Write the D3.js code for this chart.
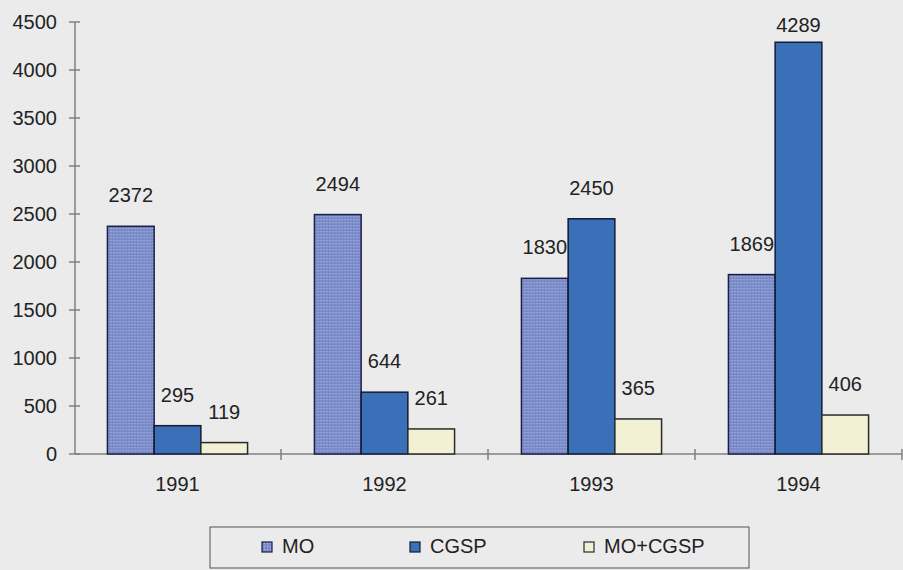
<!DOCTYPE html>
<html>
<head>
<meta charset="utf-8">
<script src="https://cdn.jsdelivr.net/npm/d3@7"></script>
<style>
  body { margin: 0; background: #ebebeb; }
  svg { display: block; font-family: "Liberation Sans", Arial, sans-serif; }
</style>
</head>
<body>
<div id="chart"></div>
<script>
const years = ["1991", "1992", "1993", "1994"];
const seriesNames = ["MO", "CGSP", "MO+CGSP"];
const moValues = [2372, 2494, 1830, 1869];
const cgspValues = [295, 644, 2450, 4289];
const bothValues = [119, 261, 365, 406];
const yTicks = [0, 500, 1000, 1500, 2000, 2500, 3000, 3500, 4000, 4500];

const width = 903;
const height = 570;
const svg = d3.select("#chart").append("svg").attr("width", width).attr("height", height);

svg.append("rect").attr("width", width).attr("height", height).attr("fill", "#ebebeb");

// dotted fill for the MO bars
const defs = svg.append("defs");
const pat = defs.append("pattern")
  .attr("id", "moDots")
  .attr("width", 3).attr("height", 3)
  .attr("patternUnits", "userSpaceOnUse");
pat.append("rect").attr("width", 3).attr("height", 3).attr("fill", "#7d8ecb");
pat.append("rect").attr("x", 0).attr("y", 0).attr("width", 1).attr("height", 1).attr("fill", "#a9b5e0");
pat.append("rect").attr("x", 2).attr("y", 2).attr("width", 1).attr("height", 1).attr("fill", "#6a7bbd");

const fills = ["url(#moDots)", "#3a70b8", "#f3f1d5"];
const strokes = ["#1c1f45", "#141a33", "#2a2a2a"];

const data = years.map((y, i) => ({
  year: y,
  values: [moValues[i], cgspValues[i], bothValues[i]]
}));

const x0 = d3.scaleBand().domain(years).range([74, 902]).paddingInner(0.323).paddingOuter(0.1615);
const x1 = d3.scaleBand().domain(d3.range(seriesNames.length)).range([0, x0.bandwidth()]);
const y = d3.scaleLinear().domain([0, 4500]).range([454, 22]);

const axisColor = "#808080";

// y axis
const yAxis = svg.append("g").attr("transform", "translate(75,0)");
yAxis.append("line").attr("y1", y(4500)).attr("y2", y(0)).attr("stroke", axisColor).attr("stroke-width", 1.5);
yAxis.selectAll("line.tick").data(yTicks).enter().append("line")
  .attr("class", "tick")
  .attr("x1", -6).attr("x2", 5)
  .attr("y1", d => y(d)).attr("y2", d => y(d))
  .attr("stroke", axisColor).attr("stroke-width", 1.5);
yAxis.selectAll("text").data(yTicks).enter().append("text")
  .attr("x", -18)
  .attr("y", d => y(d))
  .attr("dy", "0.35em")
  .attr("text-anchor", "end")
  .attr("font-size", 20)
  .attr("fill", "#222")
  .text(d => d);

// x axis
const xAxis = svg.append("g");
xAxis.append("line").attr("x1", 75).attr("x2", 902).attr("y1", y(0)).attr("y2", y(0))
  .attr("stroke", axisColor).attr("stroke-width", 1.5);
const catEdges = years.map(d => x0(d) - x0.step() * x0.paddingOuter()).concat([902]);
xAxis.selectAll("line.tick").data(catEdges.slice(1)).enter().append("line")
  .attr("class", "tick")
  .attr("x1", d => d).attr("x2", d => d)
  .attr("y1", y(0) - 5).attr("y2", y(0) + 6)
  .attr("stroke", axisColor).attr("stroke-width", 1.5);
xAxis.selectAll("text").data(years).enter().append("text")
  .attr("x", d => x0(d) + x0.bandwidth() / 2)
  .attr("y", 491)
  .attr("text-anchor", "middle")
  .attr("font-size", 20)
  .attr("fill", "#222")
  .text(d => d);

// bars
const groups = svg.selectAll("g.year").data(data).enter().append("g")
  .attr("class", "year")
  .attr("transform", d => `translate(${x0(d.year)},0)`);

groups.selectAll("rect").data(d => d.values).enter().append("rect")
  .attr("x", (d, i) => x1(i))
  .attr("y", d => y(d))
  .attr("width", x1.bandwidth())
  .attr("height", d => y(0) - y(d))
  .attr("fill", (d, i) => fills[i])
  .attr("stroke", (d, i) => strokes[i])
  .attr("stroke-width", 1.5);

groups.selectAll("text").data(d => d.values).enter().append("text")
  .attr("x", (d, i) => x1(i) + x1.bandwidth() / 2)
  .attr("y", d => Math.max(y(d) - 24, 32))
  .attr("text-anchor", "middle")
  .attr("font-size", 20)
  .attr("fill", "#222")
  .text(d => d);

// legend
const legend = svg.append("g");
legend.append("rect")
  .attr("x", 210).attr("y", 527).attr("width", 539).attr("height", 41)
  .attr("fill", "none").attr("stroke", "#555").attr("stroke-width", 1);
const legendX = [262, 410, 584];
seriesNames.forEach((name, i) => {
  legend.append("rect")
    .attr("x", legendX[i]).attr("y", 542)
    .attr("width", 10).attr("height", 10)
    .attr("fill", fills[i]).attr("stroke", strokes[i]).attr("stroke-width", 1.2);
  legend.append("text")
    .attr("x", legendX[i] + 20).attr("y", 553)
    .attr("font-size", 20)
    .attr("fill", "#222")
    .text(name);
});
</script>
</body>
</html>
